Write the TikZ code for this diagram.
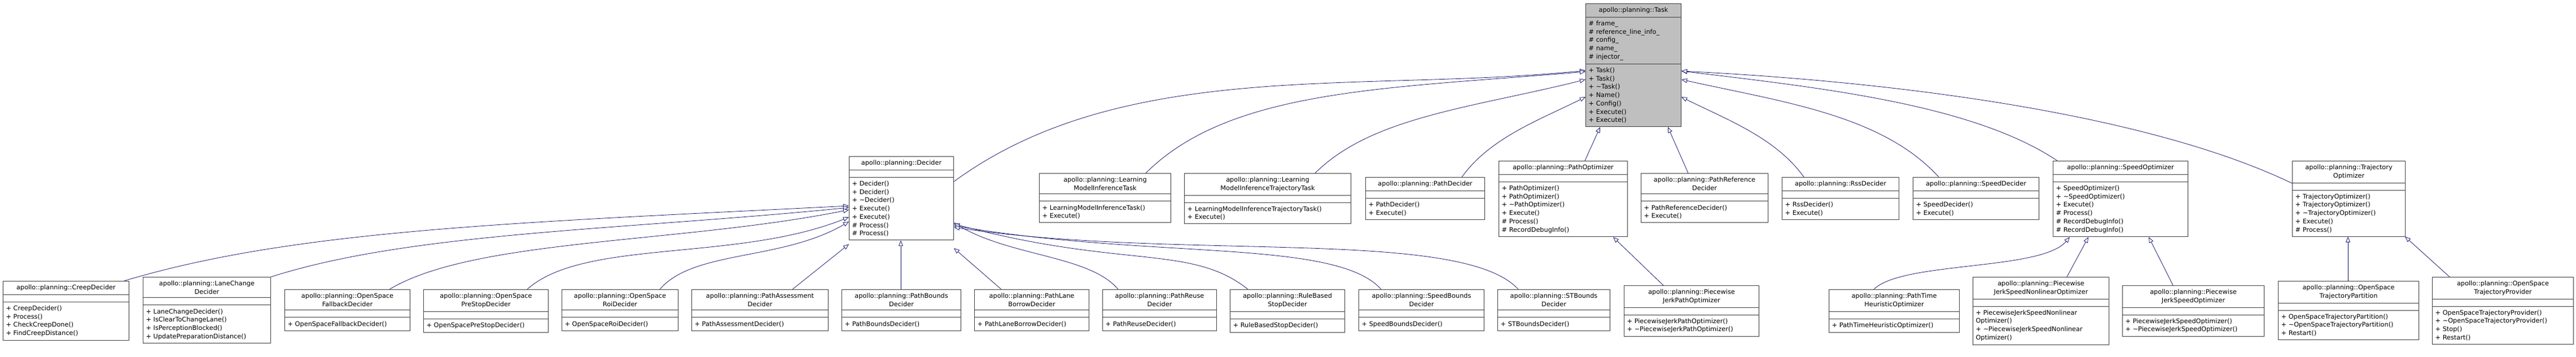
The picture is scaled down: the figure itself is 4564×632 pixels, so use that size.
\documentclass[tikz,border=0pt]{standalone}
\usepackage{fontspec}
\setmainfont{DejaVu Sans}
\usetikzlibrary{shapes.multipart,arrows.meta}

\definecolor{edgeblue}{HTML}{191970}
\definecolor{boxline}{HTML}{404040}

\newcommand{\classbox}[7][white]{%
  \pgfmathsetmacro\boxtw{#5-10}%
  \node[cls, fill=#1, text width=\boxtw pt] (#2) at (#3,#4) {{\centering #6\par}#7};}

\begin{document}
\begin{tikzpicture}[x=1pt, y=-1pt,
    cls/.style={rectangle split, rectangle split parts=3, draw=boxline, line width=1pt,
      anchor=north west, inner xsep=5pt, inner ysep=6pt,
      rectangle split empty part height=13pt,
      font=\fontsize{11.3}{14.7}\selectfont},
    inherit/.style={draw=edgeblue, line width=0.8pt,
      -{Triangle[open, length=10pt, width=8pt, fill=white]}}]
   \useasboundingbox (0,0) rectangle (4564,632);

   % base class
   \classbox[gray!50]{task}{2809}{6}{169}{apollo::planning::Task}{%
     \nodepart{second}\# frame\_\\\# reference\_line\_info\_\\\# config\_\\\# name\_\\\# injector\_
     \nodepart{third}+ Task()\\+ Task()\\+ \textasciitilde Task()\\+ Name()\\+ Config()\\+ Execute()\\+ Execute()}

   % first level
   \classbox{decider}{1504}{277}{185}{apollo::planning::Decider}{\nodepart{second}\nodepart{third}+ Decider()\\+ Decider()\\+ \textasciitilde Decider()\\+ Execute()\\+ Execute()\\\# Process()\\\# Process()}
   \classbox{lmi}{1841}{307}{233}{apollo::planning::Learning\\ModelInferenceTask}{\nodepart{second}\nodepart{third}+ LearningModelInferenceTask()\\+ Execute()}
   \classbox{lmitraj}{2098}{307}{295}{apollo::planning::Learning\\ModelInferenceTrajectoryTask}{\nodepart{second}\nodepart{third}+ LearningModelInferenceTrajectoryTask()\\+ Execute()}
   \classbox{pathdec}{2419}{314}{211}{apollo::planning::PathDecider}{\nodepart{second}\nodepart{third}+ PathDecider()\\+ Execute()}
   \classbox{pathopt}{2655}{285}{228}{apollo::planning::PathOptimizer}{\nodepart{second}\nodepart{third}+ PathOptimizer()\\+ PathOptimizer()\\+ \textasciitilde PathOptimizer()\\+ Execute()\\\# Process()\\\# RecordDebugInfo()}
   \classbox{pathref}{2907}{307}{225}{apollo::planning::PathReference\\Decider}{\nodepart{second}\nodepart{third}+ PathReferenceDecider()\\+ Execute()}
   \classbox{rss}{3157}{314}{207}{apollo::planning::RssDecider}{\nodepart{second}\nodepart{third}+ RssDecider()\\+ Execute()}
   \classbox{speeddec}{3389}{314}{223}{apollo::planning::SpeedDecider}{\nodepart{second}\nodepart{third}+ SpeedDecider()\\+ Execute()}
   \classbox{speedopt}{3637}{285}{239}{apollo::planning::SpeedOptimizer}{\nodepart{second}\nodepart{third}+ SpeedOptimizer()\\+ \textasciitilde SpeedOptimizer()\\+ Execute()\\\# Process()\\\# RecordDebugInfo()\\\# RecordDebugInfo()}
   \classbox{trajopt}{4061}{285}{200}{apollo::planning::Trajectory\\Optimizer}{\nodepart{second}\nodepart{third}+ TrajectoryOptimizer()\\+ TrajectoryOptimizer()\\+ \textasciitilde TrajectoryOptimizer()\\+ Execute()\\\# Process()}

   % deciders
   \classbox{creep}{5}{498}{223}{apollo::planning::CreepDecider}{\nodepart{second}\nodepart{third}+ CreepDecider()\\+ Process()\\+ CheckCreepDone()\\+ FindCreepDistance()}
   \classbox{lanechange}{253}{491}{226}{apollo::planning::LaneChange\\Decider}{\nodepart{second}\nodepart{third}+ LaneChangeDecider()\\+ IsClearToChangeLane()\\+ IsPerceptionBlocked()\\+ UpdatePreparationDistance()}
   \classbox{fallback}{504}{513}{222}{apollo::planning::OpenSpace\\FallbackDecider}{\nodepart{second}\nodepart{third}+ OpenSpaceFallbackDecider()}
   \classbox{prestop}{750}{513}{221}{apollo::planning::OpenSpace\\PreStopDecider}{\nodepart{second}\nodepart{third}+ OpenSpacePreStopDecider()}
   \classbox{roi}{995}{513}{206}{apollo::planning::OpenSpace\\RoiDecider}{\nodepart{second}\nodepart{third}+ OpenSpaceRoiDecider()}
   \classbox{assess}{1225}{513}{242}{apollo::planning::PathAssessment\\Decider}{\nodepart{second}\nodepart{third}+ PathAssessmentDecider()}
   \classbox{bounds}{1491}{513}{211}{apollo::planning::PathBounds\\Decider}{\nodepart{second}\nodepart{third}+ PathBoundsDecider()}
   \classbox{borrow}{1726}{513}{203}{apollo::planning::PathLane\\BorrowDecider}{\nodepart{second}\nodepart{third}+ PathLaneBorrowDecider()}
   \classbox{reuse}{1953}{513}{202}{apollo::planning::PathReuse\\Decider}{\nodepart{second}\nodepart{third}+ PathReuseDecider()}
   \classbox{rulestop}{2179}{513}{203}{apollo::planning::RuleBased\\StopDecider}{\nodepart{second}\nodepart{third}+ RuleBasedStopDecider()}
   \classbox{speedbounds}{2407}{513}{222}{apollo::planning::SpeedBounds\\Decider}{\nodepart{second}\nodepart{third}+ SpeedBoundsDecider()}
   \classbox{stbounds}{2653}{513}{199}{apollo::planning::STBounds\\Decider}{\nodepart{second}\nodepart{third}+ STBoundsDecider()}

   % optimizers
   \classbox{pjpath}{2877}{506}{239}{apollo::planning::Piecewise\\JerkPathOptimizer}{\nodepart{second}\nodepart{third}+ PiecewiseJerkPathOptimizer()\\+ \textasciitilde PiecewiseJerkPathOptimizer()}
   \classbox{pathtime}{3240}{513}{231}{apollo::planning::PathTime\\HeuristicOptimizer}{\nodepart{second}\nodepart{third}+ PathTimeHeuristicOptimizer()}
   \classbox{pjnonlin}{3495}{491}{241}{apollo::planning::Piecewise\\JerkSpeedNonlinearOptimizer}{\nodepart{second}\nodepart{third}+ PiecewiseJerkSpeedNonlinear\\Optimizer()\\+ \textasciitilde PiecewiseJerkSpeedNonlinear\\Optimizer()}
   \classbox{pjspeed}{3760}{506}{251}{apollo::planning::Piecewise\\JerkSpeedOptimizer}{\nodepart{second}\nodepart{third}+ PiecewiseJerkSpeedOptimizer()\\+ \textasciitilde PiecewiseJerkSpeedOptimizer()}
   \classbox{ostpart}{4036}{498}{249}{apollo::planning::OpenSpace\\TrajectoryPartition}{\nodepart{second}\nodepart{third}+ OpenSpaceTrajectoryPartition()\\+ \textasciitilde OpenSpaceTrajectoryPartition()\\+ Restart()}
   \classbox{ostprov}{4309}{491}{250}{apollo::planning::OpenSpace\\TrajectoryProvider}{\nodepart{second}\nodepart{third}+ OpenSpaceTrajectoryProvider()\\+ \textasciitilde OpenSpaceTrajectoryProvider()\\+ Stop()\\+ Restart()}

   % into Task
   \draw[inherit] (decider.east |- 0,322) .. controls +(300,-220) and +(-400,40) .. (task.west |- 0,125);
   \draw[inherit] (lmi.north -| 2030,0) .. controls +(150,-150) and +(-350,30) .. (task.west |- 0,127);
   \draw[inherit] (lmitraj.north -| 2330,0) .. controls +(100,-100) and +(-200,50) .. (task.west |- 0,141);
   \draw[inherit] (pathdec.north -| 2590,0) .. controls +(50,-70) and +(-80,40) .. (task.west |- 0,172);
   \draw[inherit] (pathopt.north -| 2808,0) -- (task.south -| 2835,0);
   \draw[inherit] (pathref.north -| 2991,0) -- (task.south -| 2955,0);
   \draw[inherit] (rss.north -| 3196,0) .. controls +(-50,-70) and +(80,40) .. (task.east |- 0,172);
   \draw[inherit] (speeddec.north -| 3435,0) .. controls +(-100,-110) and +(180,40) .. (task.east |- 0,141);
   \draw[inherit] (speedopt.north -| 3645,0) .. controls +(-150,-100) and +(250,30) .. (task.east |- 0,126);
   \draw[inherit] (trajopt.west |- 0,325) .. controls +(-250,-120) and +(400,20) .. (task.east |- 0,126);

   % into Decider
   \draw[inherit] (creep.north -| 220,0) .. controls +(300,-90) and +(-600,30) .. (decider.west |- 0,365);
   \draw[inherit] (lanechange.north east) .. controls +(250,-80) and +(-400,40) .. (decider.west |- 0,368);
   \draw[inherit] (fallback.north -| 690,0) .. controls +(150,-90) and +(-300,60) .. (decider.west |- 0,372);
   \draw[inherit] (prestop.north -| 934,0) .. controls +(100,-90) and +(-200,80) .. (decider.west |- 0,385);
   \draw[inherit] (roi.north -| 1169,0) .. controls +(60,-70) and +(-120,70) .. (decider.west |- 0,393);
   \draw[inherit] (assess.north -| 1404,0) -- (decider.west |- 0,433);
   \draw[inherit] (bounds.north -| 1596,0) -- (decider.south -| 1596,0);
   \draw[inherit] (borrow.north -| 1774,0) -- (decider.east |- 0,440);
   \draw[inherit] (reuse.north -| 1981,0) .. controls +(-50,-60) and +(100,60) .. (decider.east |- 0,395);
   \draw[inherit] (rulestop.north -| 2211,0) .. controls +(-100,-80) and +(300,80) .. (decider.east |- 0,397);
   \draw[inherit] (speedbounds.north -| 2447,0) .. controls +(-80,-90) and +(350,60) .. (decider.east |- 0,400);
   \draw[inherit] (stbounds.north -| 2690,0) .. controls +(-100,-110) and +(400,60) .. (decider.east |- 0,403);

   % optimizer children
   \draw[inherit] (pjpath.north -| 2947,0) -- (pathopt.south -| 2858,0);
   \draw[inherit] (pathtime.north -| 3320,0) .. controls +(50,-50) and +(-50,60) .. (speedopt.south -| 3667,0);
   \draw[inherit] (pjnonlin.north -| 3662,0) -- (speedopt.south -| 3700,0);
   \draw[inherit] (pjspeed.north -| 3850,0) -- (speedopt.south -| 3807,0);
   \draw[inherit] (ostpart.north -| 4160,0) -- (trajopt.south -| 4160,0);
   \draw[inherit] (ostprov.north -| 4340,0) -- (trajopt.south -| 4261,0);
\end{tikzpicture}
\end{document}
